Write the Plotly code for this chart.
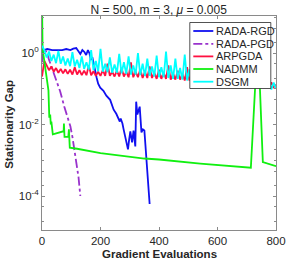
import plotly.graph_objects as go

# ---------------- data ----------------
rgd_x = [0, 8, 18, 35, 52, 69, 83, 97, 107, 117, 124, 131, 138, 145, 151, 157, 162, 167, 172, 177,
         182, 187, 192, 199, 210, 220, 233, 245, 254, 262, 266, 269, 275, 279, 285, 294, 298, 302,
         308, 313, 319, 322, 326, 330, 334, 340, 345, 350, 368]
rgd_y = [1.0, 1.21, 1.29, 1.21, 1.21, 1.21, 1.29, 1.21, 1.33, 1.38, 1.14, 0.94, 1.21, 1.07, 0.88,
         1.21, 1.0, 0.64, 0.77, 0.46, 0.26, 0.20, 0.138, 0.107, 0.088, 0.064, 0.049, 0.026, 0.020,
         0.0138, 0.0121, 0.0147, 0.0107, 0.0073, 0.00435, 0.00202, 0.00383, 0.0064, 0.00316, 0.0068,
         0.00245, 0.0435, 0.019, 0.026, 0.0316, 0.006, 0.0073, 0.0068, 0.00006]

pgd_x = [0, 4, 12, 18, 22, 28, 35, 45, 55, 62, 76, 90, 97, 104, 110, 118, 125, 131]
pgd_y = [0.55, 1.1, 1.15, 1.0, 0.72, 0.52, 0.34, 0.21, 0.12, 0.085, 0.032, 0.0138, 0.0089, 0.0045,
         0.002, 0.0009, 0.00033, 0.0001]

nadmm_x = [0, 2, 22, 23, 25, 28, 30, 32, 34, 37, 74, 75, 77, 90, 92, 95, 120, 200, 350, 400, 541,
           700, 714, 738, 755, 800]
nadmm_y = [30.0, 1.3, 0.09, 0.0215, 0.0156, 0.019, 0.010, 0.012, 0.0075, 0.0053, 0.0065, 0.0107,
           0.0045, 0.0045, 0.0073, 0.00225, 0.0021, 0.00158, 0.00112, 0.00105, 0.00081, 0.00063,
           0.00062, 3.0, 0.00089, 0.00068]

noisy_x = [0, 8, 16, 24, 32, 40, 48, 56, 64, 72, 80, 88, 96, 104, 112, 120, 128, 136, 144, 152,
           160, 168, 176, 184, 192, 200, 208, 216, 224, 232, 240, 248, 256, 264, 272, 280, 288, 296,
           304, 312, 320, 328, 336, 344, 352, 360, 368, 376, 384, 392, 400, 408, 416, 424, 432, 440,
           448, 456, 464, 472, 480, 488, 496, 504, 512, 520, 528, 536, 544, 552, 560, 568, 576, 584,
           592, 600, 608, 616, 624, 632, 640, 648, 656, 664, 672, 680, 688, 696, 704, 712, 720, 728,
           736, 744, 752, 760, 768, 776, 784, 792, 800]

arpgda_y = [0.22, 0.6, 0.45, 0.33, 0.42, 0.3, 0.38, 0.28, 0.36, 0.27, 0.35, 0.26, 0.34, 0.25, 0.4,
            0.25, 0.33, 0.24, 0.32, 0.24, 0.45, 0.24, 0.31, 0.23, 0.3, 0.23, 0.33, 0.23, 0.5, 0.23,
            0.3, 0.22, 0.32, 0.22, 0.38, 0.22, 0.3, 0.21, 0.55, 0.21, 0.3, 0.21, 0.35, 0.2, 0.3, 0.2,
            0.42, 0.2, 0.28, 0.19, 0.34, 0.19, 0.28, 0.19, 0.45, 0.18, 0.27, 0.18, 0.32, 0.18, 0.26,
            0.17, 0.4, 0.17, 0.25, 0.165, 0.3, 0.16, 0.24, 0.16, 0.35, 0.155, 0.23, 0.15, 0.28, 0.15,
            0.22, 0.145, 0.3, 0.14, 0.21, 0.14, 0.26, 0.135, 0.2, 0.13, 0.25, 0.13, 0.19, 0.125, 0.22,
            0.12, 0.18, 0.12, 0.2, 0.115, 0.17, 0.11, 0.15, 0.11, 0.13]

dsgm_y = [1.6, 1.2, 0.75, 1.1, 0.6, 0.9, 0.52, 1.15, 0.5, 0.8, 0.45, 0.7, 0.43, 1.05, 0.42, 0.65,
          0.38, 0.8, 0.36, 0.55, 0.34, 1.2, 0.33, 0.6, 0.31, 1.3, 0.3, 0.5, 0.29, 0.75, 0.28, 0.48,
          0.28, 0.95, 0.27, 0.55, 0.26, 0.8, 0.25, 0.45, 0.25, 1.0, 0.24, 0.5, 0.23, 0.7, 0.23, 0.42,
          0.22, 0.85, 0.21, 0.4, 0.21, 1.1, 0.2, 0.45, 0.19, 0.7, 0.19, 0.38, 0.18, 0.9, 0.17, 0.35,
          0.17, 0.6, 0.165, 0.32, 0.155, 0.7, 0.15, 0.3, 0.145, 0.5, 0.14, 0.28, 0.14, 0.6, 0.135,
          0.26, 0.13, 0.45, 0.13, 0.24, 0.125, 0.5, 0.12, 0.22, 0.12, 0.4, 0.115, 0.21, 0.115, 0.35,
          0.11, 0.2, 0.11, 0.18, 0.095, 0.15, 0.1]

series_names = ["RADA-RGD", "RADA-PGD", "ARPGDA", "NADMM", "DSGM"]
series_colors = ["#1010F0", "#9932CC", "#FF1040", "#10F010", "#00FFFF"]
series_dash = ["solid", "dashdot", "solid", "solid", "solid"]

x_ticks = [0, 200, 400, 600, 800]
y_ticks = [1, 0.01, 0.0001]
y_tick_text = ["10<sup>0</sup>", "10<sup>-2</sup>", "10<sup>-4</sup>"]

# ---------------- figure ----------------
FONT = "Liberation Sans, Arial, Helvetica, sans-serif"
TXT = "#262626"
W_FIG, H_FIG = 303, 265
L, R, T, B = 41.7, 27.3, 16, 35
PW, PH = W_FIG - L - R, H_FIG - T - B

def px_to_paper(px, py):
    return (px - L) / PW, (H_FIG - B - py) / PH

fig = go.Figure()
xs = [rgd_x, pgd_x, noisy_x, nadmm_x, noisy_x]
ys = [rgd_y, pgd_y, arpgda_y, nadmm_y, dsgm_y]
for xv, yv, n, c, d in zip(xs, ys, series_names, series_colors, series_dash):
    fig.add_trace(go.Scatter(x=xv, y=yv, mode="lines", name=n, showlegend=False,
                             line=dict(color=c, width=1.8, dash=d)))

axis_common = dict(showline=True, linecolor="#8a8a8a", linewidth=1, mirror="ticks",
                   ticks="inside", ticklen=3, tickcolor="#8a8a8a", showgrid=False, zeroline=False,
                   automargin=False, tickfont=dict(family=FONT, size=11.5, color=TXT))

fig.update_xaxes(range=[0, 800], tickvals=x_ticks, **axis_common)
fig.update_yaxes(type="log", range=[-4.95, 1.035], tickvals=y_ticks, ticktext=y_tick_text,
                 minor=dict(ticks="inside", ticklen=2, tickcolor="#8a8a8a", showgrid=False),
                 **axis_common)

annotations = [
    dict(text="<b>Gradient Evaluations</b>", xref="paper", yref="paper",
         x=0.5, y=px_to_paper(0, 254)[1], xanchor="center", yanchor="middle",
         showarrow=False, font=dict(family=FONT, size=11.5, color=TXT)),
    dict(text="<b>Stationarity Gap</b>", xref="paper", yref="paper", textangle=-90,
         x=px_to_paper(8.5, 0)[0], y=px_to_paper(0, 124)[1], xanchor="center", yanchor="middle",
         showarrow=False, font=dict(family=FONT, size=11.5, color=TXT)),
]

# custom compact legend (MATLAB-style)
shapes = []
bx0, by0 = px_to_paper(189.5, 22.5)
bx1, by1 = px_to_paper(270.5, 88.5)
shapes.append(dict(type="rect", xref="paper", yref="paper", x0=bx0, x1=bx1, y0=by1, y1=by0,
                   fillcolor="white", line=dict(color=TXT, width=0.8), layer="above"))
row_y = [31, 43.8, 56.4, 69, 81.7]
for ry, n, c, d in zip(row_y, series_names, series_colors, series_dash):
    lx0, ly = px_to_paper(193, ry)
    lx1, _ = px_to_paper(213, ry)
    shapes.append(dict(type="line", xref="paper", yref="paper", x0=lx0, x1=lx1, y0=ly, y1=ly,
                       line=dict(color=c, width=1.8, dash=d), layer="above"))
    tx, _ = px_to_paper(214, ry)
    annotations.append(dict(text=n, xref="paper", yref="paper", x=tx, y=ly, xanchor="left",
                            yanchor="middle", showarrow=False,
                            font=dict(family=FONT, size=11, color=TXT)))

fig.update_layout(
    width=W_FIG, height=H_FIG,
    margin=dict(l=L, r=R, t=T, b=B, autoexpand=False),
    paper_bgcolor="white", plot_bgcolor="white",
    font=dict(family=FONT, size=11, color=TXT),
    title=dict(text="N = 500, m = 3, <i>μ</i> = 0.005", x=(L + PW / 2) / W_FIG,
               xanchor="center", y=1 - 9.5 / H_FIG, yanchor="middle", yref="container",
               font=dict(family=FONT, size=12, color=TXT)),
    shapes=shapes, annotations=annotations,
    showlegend=False, hovermode=False,
)

fig.write_html("out.html", config={"displayModeBar": False, "staticPlot": True},
               post_script="document.body.style.margin='0';document.body.style.overflow='hidden';")
